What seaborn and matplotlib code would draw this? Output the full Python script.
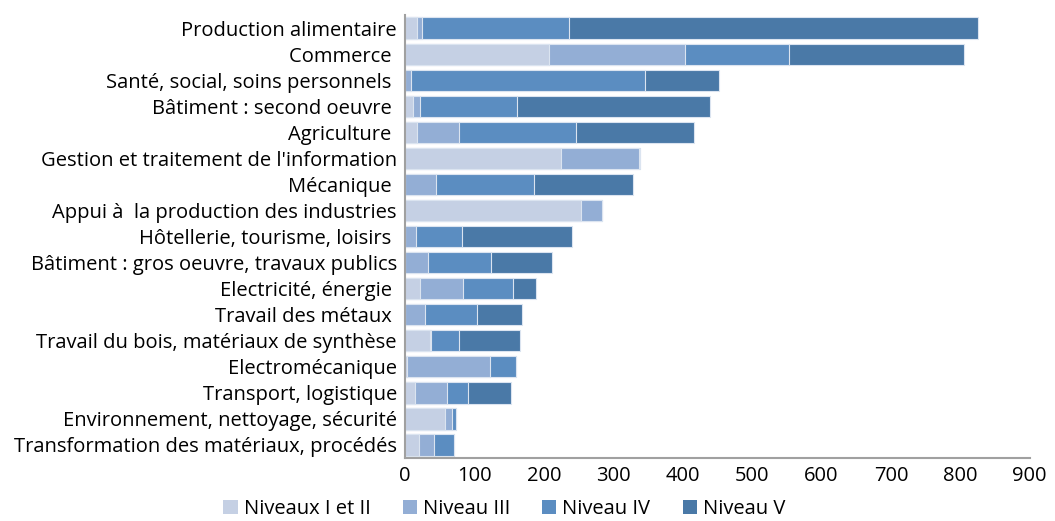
import numpy as np
import pandas as pd
import seaborn as sns
import matplotlib.pyplot as plt
from matplotlib.patches import Patch
from matplotlib.ticker import MultipleLocator, FixedLocator

categories = [
    "Production alimentaire",
    "Commerce ",
    "Santé, social, soins personnels ",
    "Bâtiment : second oeuvre ",
    "Agriculture ",
    "Gestion et traitement de l'information",
    "Mécanique ",
    "Appui à  la production des industries",
    "Hôtellerie, tourisme, loisirs ",
    "Bâtiment : gros oeuvre, travaux publics",
    "Electricité, énergie ",
    "Travail des métaux ",
    "Travail du bois, matériaux de synthèse",
    "Electromécanique",
    "Transport, logistique",
    "Environnement, nettoyage, sécurité",
    "Transformation des matériaux, procédés",
]
niv_1_2 = [17, 208, 0, 11, 17, 225, 0, 253, 0, 0, 22, 0, 36, 2, 14, 58, 20]
niv_3 = [8, 195, 8, 11, 61, 112, 44, 30, 16, 33, 61, 28, 2, 120, 47, 9, 21]
niv_4 = [211, 150, 337, 139, 168, 2, 142, 0, 66, 91, 72, 75, 39, 38, 30, 7, 30]
niv_5 = [590, 252, 108, 278, 171, 0, 142, 0, 158, 88, 33, 66, 88, 0, 61, 0, 0]

series = ["Niveaux I et II", "Niveau III", "Niveau IV", "Niveau V"]
colors = ["#c5d0e4", "#93aed5", "#5b8dc1", "#4a79a7"]

df = pd.DataFrame({
    "cat": categories,
    series[0]: niv_1_2,
    series[1]: niv_3,
    series[2]: niv_4,
    series[3]: niv_5,
})
cum = df[series].cumsum(axis=1)

sns.set_style("white")
plt.rcParams["font.family"] = ["Open Sans", "DejaVu Sans"]
plt.rcParams["text.color"] = "black"

fig = plt.figure(figsize=(10.55, 5.21), dpi=100)
ax = fig.add_axes([0.384, 0.121, 0.592, 0.85])

# stacked bars drawn as overlapping cumulative totals
for name, col in reversed(list(zip(series, colors))):
    sns.barplot(x=cum[name], y=df["cat"], color=col, orient="h", width=0.82,
                edgecolor="#dbe4f0", linewidth=0.8, ax=ax, saturation=1)

ax.set_xlim(0, 900)
ax.set_ylim(len(categories) - 0.5, -0.5)
ax.xaxis.set_major_locator(MultipleLocator(100))
ax.set_xlabel("")
ax.set_ylabel("")

for s in ["top", "right"]:
    ax.spines[s].set_visible(False)
for s in ["left", "bottom"]:
    ax.spines[s].set_color("#a0a0a0")
    ax.spines[s].set_linewidth(1.5)

ax.tick_params(axis="x", length=5, width=1.5, color="#a0a0a0", labelsize=14.5,
               direction="out", pad=1, labelcolor="black")
ax.tick_params(axis="y", which="major", length=0, labelsize=14.5, pad=6,
               labelcolor="black")
ax.yaxis.set_minor_locator(FixedLocator(np.arange(-0.5, len(categories), 1)))
ax.tick_params(axis="y", which="minor", length=5, width=1.5, color="#a0a0a0",
               direction="out")

handles = [Patch(facecolor=c, edgecolor="none") for c in colors]
fig.legend(handles, series, loc="lower center", bbox_to_anchor=(0.478, -0.02),
           ncol=4, frameon=False, fontsize=14.5, handlelength=0.7,
           handleheight=0.7, handletextpad=0.3, columnspacing=1.6,
           borderpad=0.1, labelcolor="black")

fig.savefig("out.png", dpi=100)
